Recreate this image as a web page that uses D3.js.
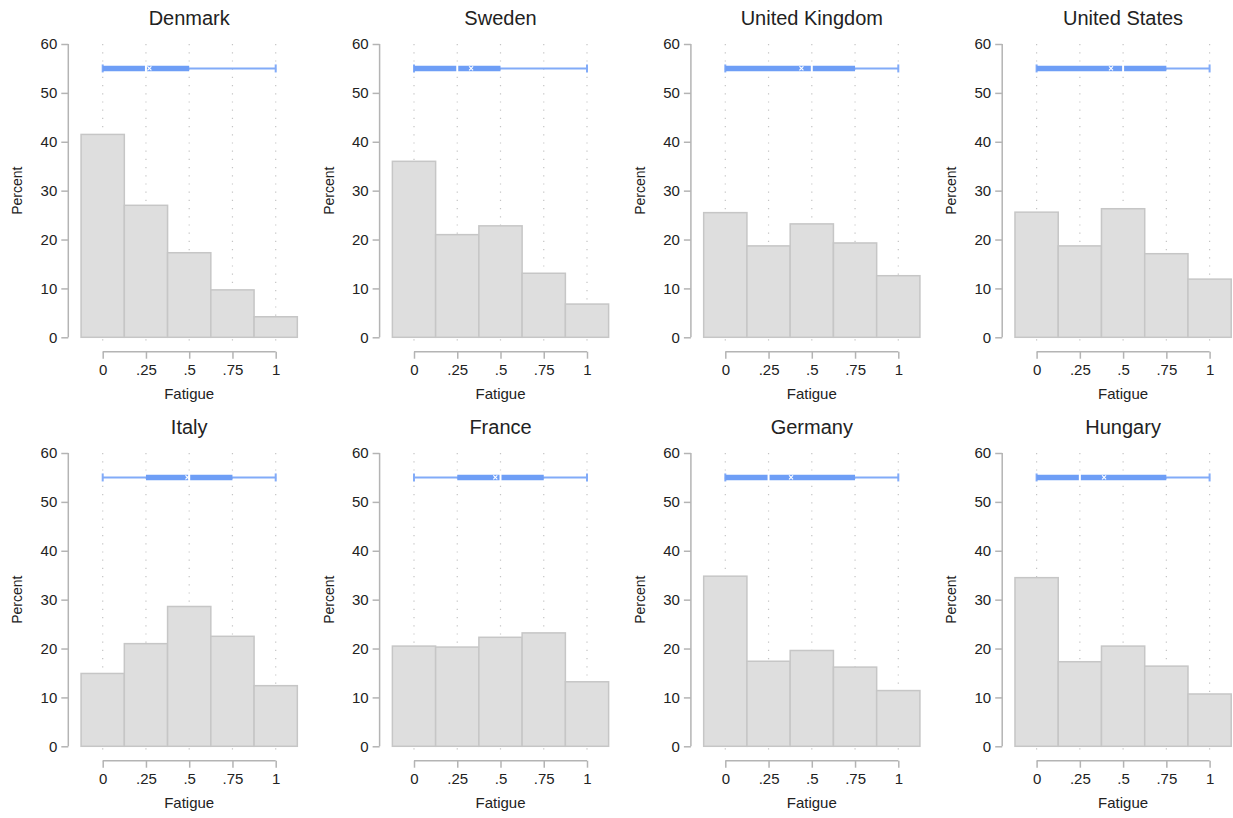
<!DOCTYPE html>
<html>
<head>
<meta charset="utf-8">
<script src="https://cdn.jsdelivr.net/npm/d3@7"></script>
<style>
  body { margin: 0; background: #fff; }
  text { font-family: "Liberation Sans", Arial, sans-serif; fill: #222; }
</style>
</head>
<body>
<svg id="chart"></svg>
<script>
// histogram bins (fatigue 0, .25, .5, .75, 1), percent
var countries = ["Denmark", "Sweden", "United Kingdom", "United States",
                 "Italy", "France", "Germany", "Hungary"];
var binCenters = [0, 0.25, 0.5, 0.75, 1];
var percents = [
  [41.5, 27.0, 17.3, 9.7, 4.2],
  [36.0, 21.0, 22.8, 13.1, 6.8],
  [25.5, 18.7, 23.2, 19.3, 12.6],
  [25.6, 18.7, 26.3, 17.1, 11.9],
  [14.9, 21.0, 28.6, 22.5, 12.4],
  [20.5, 20.3, 22.3, 23.2, 13.2],
  [34.8, 17.4, 19.6, 16.2, 11.4],
  [34.5, 17.3, 20.5, 16.4, 10.7]
];
// box summary: min, q1, median, q3, max, mean
var boxStats = [
  [0, 0, 0.25, 0.5, 1, 0.27],
  [0, 0, 0.25, 0.5, 1, 0.33],
  [0, 0, 0.5, 0.75, 1, 0.44],
  [0, 0, 0.5, 0.75, 1, 0.43],
  [0, 0.25, 0.5, 0.75, 1, 0.49],
  [0, 0.25, 0.5, 0.75, 1, 0.47],
  [0, 0, 0.25, 0.75, 1, 0.38],
  [0, 0, 0.25, 0.75, 1, 0.39]
];
var xTicks = [0, 0.25, 0.5, 0.75, 1];
var xTickLabels = ["0", ".25", ".5", ".75", "1"];
var yTicks = [0, 10, 20, 30, 40, 50, 60];
var boxLevel = 55;

var width = 1233, height = 818;
var svg = d3.select("#chart").attr("width", width).attr("height", height);

var axisColor = "#b4b4b4",
    barFill = "#dedede",
    barStroke = "#c6c6c6",
    boxColor = "#6e9ef6",
    whiskerColor = "#82abf8";

countries.forEach(function(name, i) {
  var col = i % 4, row = Math.floor(i / 4);
  var ax = 68.3 + col * 311.3;   // y-axis line position
  var top = 44 + row * 409, bottom = 337.3 + row * 409;

  var x = d3.scaleLinear().domain([0, 1]).range([ax + 34.4, ax + 207.4]);
  var y = d3.scaleLinear().domain([0, 60]).range([bottom, top]);

  var g = svg.append("g").attr("class", "panel");

  // dotted vertical grid
  g.append("g").selectAll("line")
    .data(xTicks)
    .enter().append("line")
      .attr("x1", function(d) { return x(d); })
      .attr("x2", function(d) { return x(d); })
      .attr("y1", top)
      .attr("y2", bottom + 6)
      .attr("stroke", "#c4c4c4")
      .attr("stroke-width", 1.2)
      .attr("stroke-dasharray", "1.2,7");

  // histogram bars
  var bw = 0.25;
  g.append("g").selectAll("rect")
    .data(percents[i])
    .enter().append("rect")
      .attr("x", function(d, j) { return x(binCenters[j] - bw / 2); })
      .attr("width", function(d, j) { return x(binCenters[j] + bw / 2) - x(binCenters[j] - bw / 2); })
      .attr("y", function(d) { return y(d); })
      .attr("height", function(d) { return y(0) - y(d); })
      .attr("fill", barFill)
      .attr("stroke", barStroke)
      .attr("stroke-width", 1.5);

  // y axis
  var yAxis = g.append("g")
    .attr("transform", "translate(" + ax + ",0)")
    .call(d3.axisLeft(y).tickValues(yTicks).tickSize(7).tickPadding(4));
  yAxis.select(".domain").attr("stroke", axisColor).attr("stroke-width", 1.5)
    .attr("d", "M0," + top + "V" + bottom);
  yAxis.selectAll(".tick line").attr("stroke", axisColor).attr("stroke-width", 1.5);
  yAxis.selectAll(".tick text").style("font-size", "15px")
    .style("font-family", "Liberation Sans, Arial, sans-serif").attr("fill", "#222");

  // x axis
  var xAxis = g.append("g")
    .attr("transform", "translate(0," + (bottom + 14.4) + ")")
    .call(d3.axisBottom(x).tickValues(xTicks)
      .tickFormat(function(d, k) { return xTickLabels[k]; })
      .tickSize(7).tickPadding(6));
  xAxis.select(".domain").attr("stroke", axisColor).attr("stroke-width", 1.5)
    .attr("d", "M" + x(0) + ",0H" + x(1));
  xAxis.selectAll(".tick line").attr("stroke", axisColor).attr("stroke-width", 1.5);
  xAxis.selectAll(".tick text").style("font-size", "15px")
    .style("font-family", "Liberation Sans, Arial, sans-serif").attr("fill", "#222");

  // axis titles
  g.append("text")
    .attr("x", (x(-0.125) + x(1.125)) / 2)
    .attr("y", top - 19)
    .attr("text-anchor", "middle")
    .style("font-size", "20px")
    .text(name);

  g.append("text")
    .attr("x", x(0.5))
    .attr("y", bottom + 62)
    .attr("text-anchor", "middle")
    .style("font-size", "15px")
    .text("Fatigue");

  g.append("text")
    .attr("transform", "translate(" + (ax - 46) + "," + ((top + bottom) / 2) + ") rotate(-90)")
    .attr("text-anchor", "middle")
    .style("font-size", "14px")
    .text("Percent");

  // box plot at y = 55
  var s = boxStats[i], by = y(boxLevel);
  var bp = g.append("g");
  bp.append("line")
    .attr("x1", x(s[0])).attr("x2", x(s[4]))
    .attr("y1", by).attr("y2", by)
    .attr("stroke", whiskerColor).attr("stroke-width", 2);
  bp.selectAll(".cap")
    .data([s[0], s[4]])
    .enter().append("line")
      .attr("x1", function(d) { return x(d); })
      .attr("x2", function(d) { return x(d); })
      .attr("y1", by - 4).attr("y2", by + 4)
      .attr("stroke", whiskerColor).attr("stroke-width", 2);
  bp.append("line")
    .attr("x1", x(s[1])).attr("x2", x(s[3]))
    .attr("y1", by).attr("y2", by)
    .attr("stroke", boxColor).attr("stroke-width", 5.5);
  // median gap
  bp.append("line")
    .attr("x1", x(s[2])).attr("x2", x(s[2]))
    .attr("y1", by - 4).attr("y2", by + 4)
    .attr("stroke", "#fff").attr("stroke-width", 2);
  // mean marker
  var mx = x(s[5]);
  bp.append("path")
    .attr("d", "M" + (mx - 2) + "," + (by - 2) + "L" + (mx + 2) + "," + (by + 2) +
               "M" + (mx - 2) + "," + (by + 2) + "L" + (mx + 2) + "," + (by - 2))
    .attr("stroke", "#fff").attr("stroke-width", 1.2);
});
</script>
</body>
</html>
